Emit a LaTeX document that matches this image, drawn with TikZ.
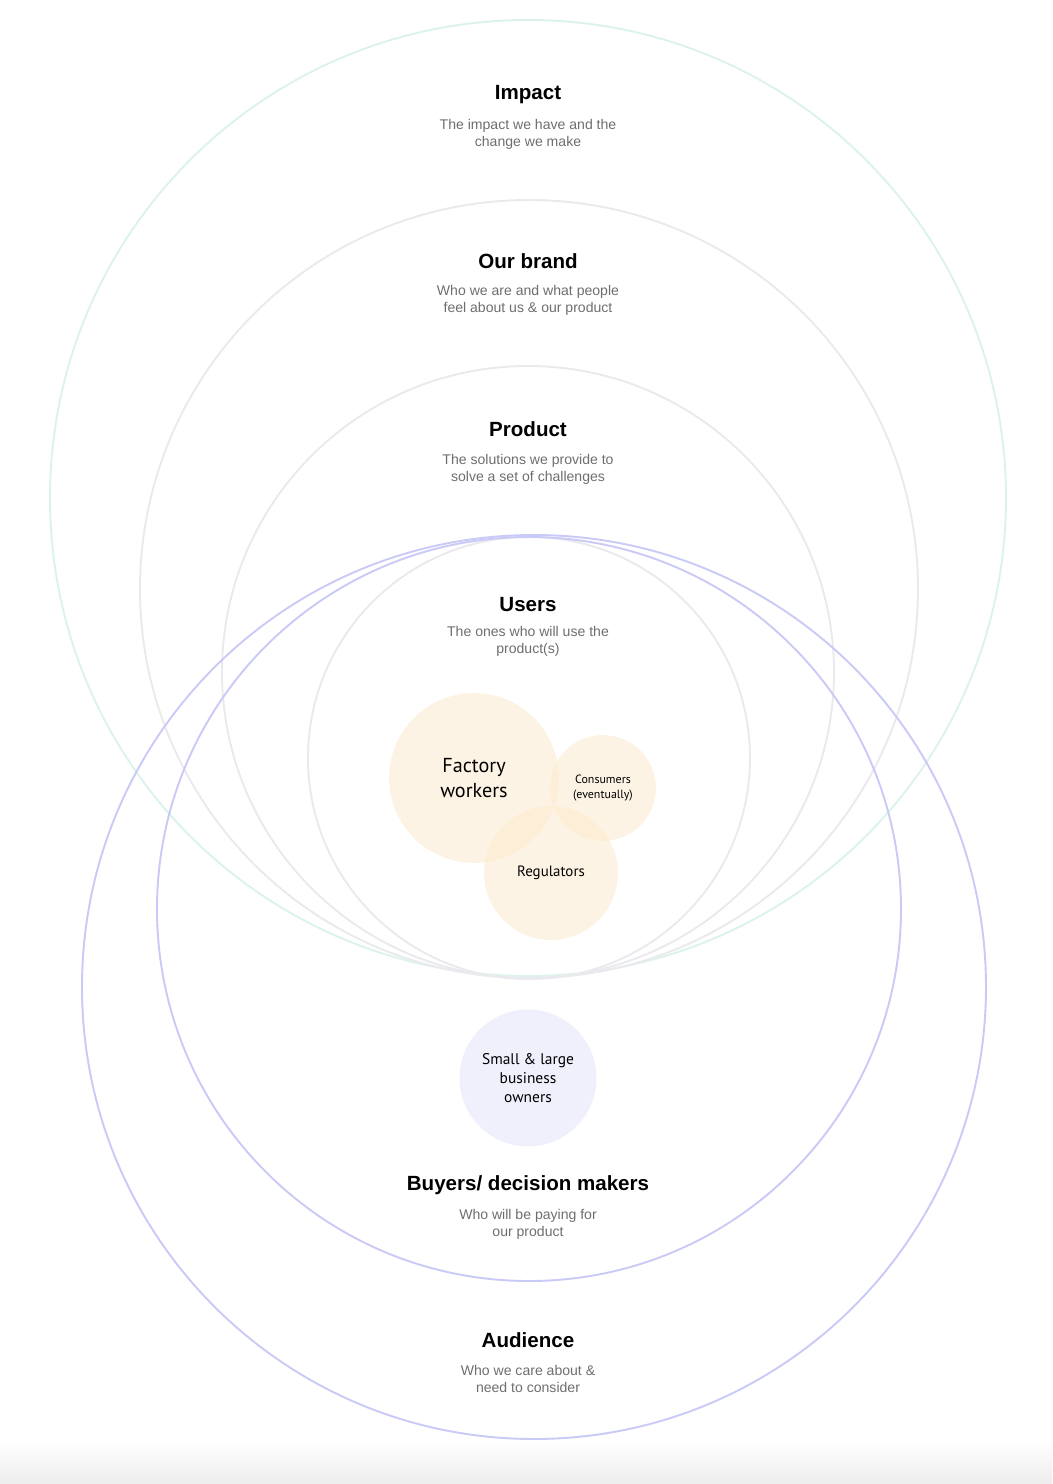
\documentclass[tikz,border=0pt]{standalone}
\usepackage{fontspec}
\setmainfont{Liberation Sans}
\newfontfamily\blobfont{PT Sans}
\definecolor{mint}{RGB}{220,243,236}
\definecolor{ringgray}{RGB}{234,234,238}
\definecolor{lav}{RGB}{202,202,246}
\definecolor{subgray}{RGB}{110,110,110}
\definecolor{peach}{RGB}{252,234,206}
\definecolor{lilac}{RGB}{240,240,252}

\begin{document}
\begin{tikzpicture}[x=0.02cm, y=-0.02cm,
  ring/.style={line width=1.1pt},
  head/.style={font=\fontsize{11.7}{14}\selectfont\bfseries},
  sub/.style={font=\fontsize{8}{9.7}\selectfont, text=subgray, align=center},
  blob/.style={circle, fill=peach, fill opacity=0.55, text opacity=1, inner sep=0pt, align=center}]
\useasboundingbox (0,0) rectangle (1052,1484);
\shade[top color=white, bottom color=black!7] (0,1440) rectangle (1052,1484);

% Rings
\foreach \cx/\cy/\r/\col in {528/498/478/mint, 529/589/389/ringgray, 528/672/306/ringgray,
  529/758/221/ringgray, 529/909/372/lav, 534/987/452/lav} {
  \draw[ring, \col] (\cx,\cy) circle[radius=\r];
}

% Ring labels
\node[head] (impact) at (528,95) {Impact};
\node[sub] (impactsub) at (528,134) {The impact we have and the\\change we make};
\node[head] (brand) at (528,261) {Our brand};
\node[sub] (brandsub) at (528,300) {Who we are and what people\\feel about us \& our product};
\node[head] (product) at (528,429) {Product};
\node[sub] (productsub) at (528,469) {The solutions we provide to\\solve a set of challenges};
\node[head] (users) at (528,605) {Users};
\node[sub] (userssub) at (528,641) {The ones who will use the\\product(s)};
\node[head] (buyers) at (528,1185) {Buyers/ decision makers};
\node[sub] (buyerssub) at (528,1224) {Who will be paying for\\our product};
\node[head] (audience) at (528,1340) {Audience};
\node[sub] (audiencesub) at (528,1379) {Who we care about \&\\need to consider};

% Groups
\node[blob, minimum size=3.4cm, font=\blobfont\fontsize{11.5}{14}\selectfont] (factory) at (474,778) {Factory\\workers};
\node[blob, minimum size=2.12cm, font=\blobfont\fontsize{6.8}{9}\selectfont] (consumers) at (603,788) {Consumers\\(eventually)};
\node[blob, minimum size=2.68cm, font=\blobfont\fontsize{8.5}{10}\selectfont] (regulators) at (551,873) {Regulators};
\node[blob, fill=lilac, fill opacity=1, minimum size=2.74cm, font=\blobfont\fontsize{8.8}{11}\selectfont] (owners) at (528,1078) {Small \& large\\business\\owners};
\end{tikzpicture}
\end{document}
